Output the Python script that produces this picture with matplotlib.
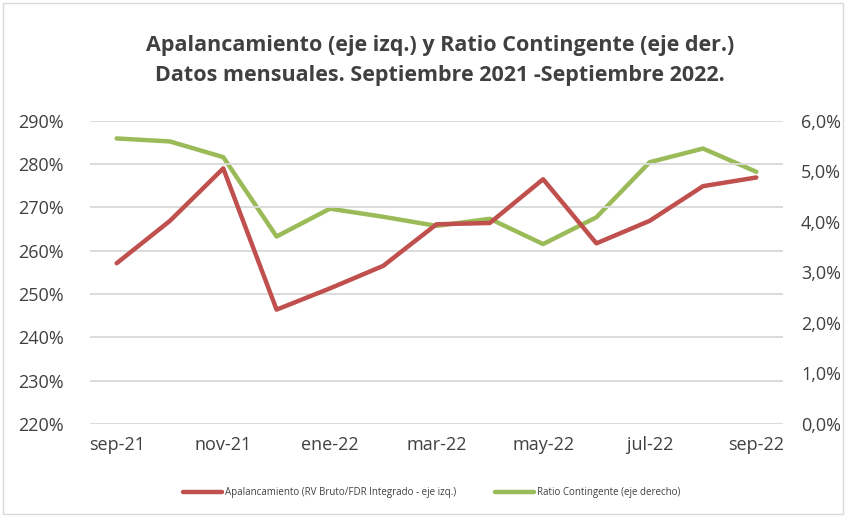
import matplotlib
matplotlib.use("Agg")
import matplotlib.pyplot as plt
from matplotlib.ticker import FuncFormatter, FixedLocator
from matplotlib.patches import Rectangle

months = ["sep-21", "oct-21", "nov-21", "dic-21", "ene-22", "feb-22", "mar-22",
          "abr-22", "may-22", "jun-22", "jul-22", "ago-22", "sep-22"]
apalancamiento = [257.1, 266.9, 279.0, 246.4, 251.3, 256.5, 266.1,
                  266.4, 276.5, 261.7, 266.9, 274.9, 276.9]
ratio_contingente = [5.65, 5.59, 5.28, 3.71, 4.26, 4.10, 3.92,
                     4.06, 3.56, 4.09, 5.18, 5.45, 4.99]
left_ticks = [220, 230, 240, 250, 260, 270, 280, 290]
right_ticks = [0, 1, 2, 3, 4, 5, 6]

title = "Apalancamiento (eje izq.) y Ratio Contingente (eje der.)\nDatos mensuales. Septiembre 2021 -Septiembre 2022."
label_red = "Apalancamiento (RV Bruto/FDR Integrado - eje izq.)"
label_green = "Ratio Contingente (eje derecho)"

fam = ["Open Sans", "DejaVu Sans"]
plt.rcParams['font.family'] = fam

red = "#C0504D"
green = "#9BBB59"
grid = "#D9D9D9"
txt = "#404040"

fig = plt.figure(figsize=(8.46, 5.16), dpi=100)
fig.patches.append(Rectangle((0.004, 0.004), 0.992, 0.99, transform=fig.transFigure,
                             fill=False, edgecolor="#D9D9D9", linewidth=1))

ax = fig.add_axes([0.1064, 0.1783, 0.8191, 0.5877])
ax2 = ax.twinx()

x = list(range(len(months)))
l1, = ax.plot(x, apalancamiento, color=red, lw=3.2, solid_capstyle="round", solid_joinstyle="round", label=label_red, zorder=3)
l2, = ax2.plot(x, ratio_contingente, color=green, lw=3.2, solid_capstyle="round", solid_joinstyle="round", label=label_green, zorder=3)

ax.set_xlim(-0.5, len(months) - 0.5)
ax.set_ylim(220, 290)
ax2.set_ylim(0, 6)
ax.yaxis.set_major_locator(FixedLocator(left_ticks))
ax2.yaxis.set_major_locator(FixedLocator(right_ticks))
ax.yaxis.set_major_formatter(FuncFormatter(lambda v, p: f"{v:.0f}%"))
ax2.yaxis.set_major_formatter(FuncFormatter(lambda v, p: f"{v:.1f}%".replace(".", ",")))
ax.set_xticks(x[::2])
ax.set_xticklabels(months[::2])

for a in (ax, ax2):
    for s in a.spines.values():
        s.set_visible(False)
    a.tick_params(length=0, labelsize=13, labelcolor=txt)
ax.tick_params(axis='y', pad=19)
ax2.tick_params(axis='y', pad=13)
ax.tick_params(axis='x', pad=9)

ax.grid(axis='y', color=grid, lw=1.3)
ax.set_axisbelow(True)
ax.set_zorder(ax2.get_zorder() + 1)
ax.patch.set_visible(False)

fig.text(0.52, 0.883, title, ha="center", va="center", fontsize=15.5,
         fontweight="bold", color=txt, linespacing=1.6)

fig.legend(handles=[l1, l2], loc="center", bbox_to_anchor=(0.51, 0.045), ncol=2,
           frameon=False, fontsize=7, handlelength=4.0, columnspacing=4,
           handletextpad=0.3, labelcolor=txt)

fig.savefig("out.png", dpi=100)
